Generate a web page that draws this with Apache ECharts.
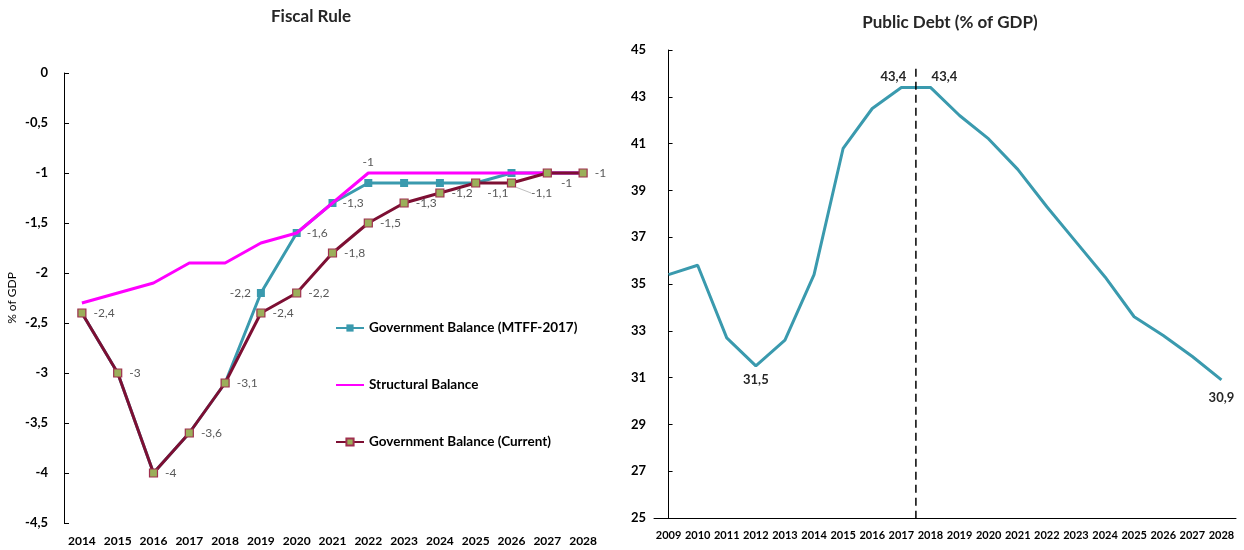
<!DOCTYPE html>
<html>
<head>
<meta charset="utf-8">
<script src="https://cdn.jsdelivr.net/npm/echarts@6/dist/echarts.min.js"></script>
<style>
  html, body { margin: 0; padding: 0; background: #ffffff; }
  #chart { width: 1244px; height: 550px; }
</style>
</head>
<body>
<div id="chart"></div>
<script>
// Fiscal rule panel
const fiscalYears = ['2014','2015','2016','2017','2018','2019','2020','2021','2022','2023','2024','2025','2026','2027','2028'];
const mtffBalance = [-2.4, -3, -4, -3.6, -3.1, -2.2, -1.6, -1.3, -1.1, -1.1, -1.1, -1.1, -1.0, -1.0, -1.0];
const structuralBalance = [-2.3, -2.2, -2.1, -1.9, -1.9, -1.7, -1.6, -1.3, -1.0, -1.0, -1.0, -1.0, -1.0, -1.0, -1.0];
const currentBalance = [-2.4, -3, -4, -3.6, -3.1, -2.4, -2.2, -1.8, -1.5, -1.3, -1.2, -1.1, -1.1, -1.0, -1.0];

// Public debt panel
const debtYears = ['2009','2010','2011','2012','2013','2014','2015','2016','2017','2018','2019','2020','2021','2022','2023','2024','2025','2026','2027','2028'];
const publicDebt = [35.4, 35.8, 32.7, 31.5, 32.6, 35.4, 40.8, 42.5, 43.4, 43.4, 42.2, 41.2, 39.9, 38.3, 36.8, 35.3, 33.6, 32.8, 31.9, 30.9];
// vertical divider between realised and programme years (category index 8.5)
const forecastDivider = [[8.5, 44.2], [8.5, 25]];

const FONT = 'Lato, "Open Sans", sans-serif';
const comma = v => String(v).replace('.', ',');

const TEAL = '#3A9AAE';
const MAGENTA = '#FF00FF';
const MAROON = '#7D0F33';
const OLIVE = '#9BAF5A';

const grayLabel = { color: '#595959', fontSize: 12, fontFamily: FONT };

// MTFF labels only on the programme points that stand apart
const mtffLabelled = { 5: 'left', 6: 'right', 7: 'right' };
const mtffData = mtffBalance.map((v, i) => {
  const pos = mtffLabelled[i];
  return pos
    ? { value: v, label: { show: true, position: pos, distance: 6, formatter: p => comma(p.value), ...grayLabel } }
    : { value: v };
});

const structuralData = structuralBalance.map((v, i) =>
  i === 8
    ? { value: v, label: { show: true, position: 'top', distance: 5, formatter: p => comma(p.value), ...grayLabel } }
    : { value: v }
);

// late points sit close together, so their labels drop below the line
const currentShift = { 11: [0, 10], 12: [8, 10], 13: [2, 10] };
const currentData = currentBalance.map((v, i) => ({
  value: v,
  label: { show: true, position: 'right', distance: 7, formatter: p => comma(p.value), ...grayLabel },
  labelLine: i === 12
    ? { show: true, length2: 0, minTurnAngle: 90, lineStyle: { color: '#bfbfbf', width: 1 } }
    : { show: false }
}));

const debtLabels = { 3: { position: 'bottom', dx: 0, dy: 0 }, 8: { position: 'top', dx: -8, dy: 3 }, 9: { position: 'top', dx: 14, dy: 3 }, 19: { position: 'bottom', dx: 0, dy: 4 } };
const debtData = publicDebt.map((v, i) => {
  const l = debtLabels[i];
  return l
    ? { value: v, label: { show: true, position: l.position, distance: 7, formatter: p => comma(p.value), color: '#262626', fontWeight: 'bold', fontSize: 13, fontFamily: FONT } }
    : { value: v };
});

const chart = echarts.init(document.getElementById('chart'), null, { renderer: 'canvas' });

chart.setOption({
  backgroundColor: '#ffffff',
  animation: false,
  textStyle: { fontFamily: FONT },
  title: [
    { text: 'Fiscal Rule', left: 306, top: 3, textAlign: 'center',
      textStyle: { fontSize: 17, fontWeight: 'bold', color: '#262626', fontFamily: FONT } },
    { text: 'Public Debt (% of GDP)', left: 945, top: 9, textAlign: 'center',
      textStyle: { fontSize: 17, fontWeight: 'bold', color: '#262626', fontFamily: FONT } }
  ],
  legend: {
    left: 330, top: 316, orient: 'vertical',
    itemWidth: 28, itemHeight: 9, itemGap: 43,
    data: [
      'Government Balance (MTFF-2017)',
      { name: 'Structural Balance', itemStyle: { opacity: 0 } },
      'Government Balance (Current)'
    ],
    textStyle: { fontSize: 13.5, fontWeight: 'bold', color: '#000000', fontFamily: FONT }
  },
  grid: [
    { left: 64, top: 73, right: 643, bottom: 27, containLabel: false },
    { left: 654, top: 50, right: 8, bottom: 32, containLabel: false }
  ],
  xAxis: [
    { type: 'category', gridIndex: 0, data: fiscalYears, boundaryGap: true,
      axisLine: { show: false }, axisTick: { show: false },
      axisLabel: { margin: 12, fontSize: 12, fontWeight: 'bold', color: '#000000', fontFamily: FONT, interval: 0 } },
    { type: 'category', gridIndex: 1, data: debtYears, boundaryGap: true,
      axisLine: { show: true, lineStyle: { color: '#000000', width: 1 } }, axisTick: { show: false },
      axisLabel: { margin: 12, fontSize: 11, fontWeight: 'bold', color: '#000000', fontFamily: FONT, interval: 0 } },
    { type: 'value', gridIndex: 1, min: -0.5, max: 19.5, show: false }
  ],
  yAxis: [
    { type: 'value', gridIndex: 0, min: -4.5, max: 0, interval: 0.5,
      name: '% of GDP', nameLocation: 'middle', nameRotate: 90, nameGap: 46,
      nameTextStyle: { fontSize: 12, color: '#000000', fontFamily: FONT },
      axisLine: { show: true, lineStyle: { color: '#000000', width: 1 } },
      axisTick: { show: true, inside: true, length: 5, lineStyle: { color: '#000000' } },
      splitLine: { show: false },
      axisLabel: { margin: 16, fontSize: 13, fontWeight: 'bold', color: '#000000', fontFamily: FONT, formatter: v => comma(v) } },
    { type: 'value', gridIndex: 1, min: 25, max: 45, interval: 2,
      axisLine: { show: true, lineStyle: { color: '#000000', width: 1 } },
      axisTick: { show: true, inside: true, length: 4, lineStyle: { color: '#000000' } },
      splitLine: { show: false },
      axisLabel: { margin: 8, fontSize: 13, fontWeight: 'bold', color: '#000000', fontFamily: FONT } }
  ],
  series: [
    { name: 'Government Balance (MTFF-2017)', type: 'line', xAxisIndex: 0, yAxisIndex: 0,
      data: mtffData, color: TEAL, symbol: 'rect', symbolSize: 8, z: 2,
      lineStyle: { width: 3, color: TEAL }, itemStyle: { color: TEAL } },
    { name: 'Structural Balance', type: 'line', xAxisIndex: 0, yAxisIndex: 0,
      data: structuralData, color: MAGENTA, symbol: 'circle', symbolSize: 0.1, z: 3,
      lineStyle: { width: 3, color: MAGENTA }, itemStyle: { color: MAGENTA } },
    { name: 'Government Balance (Current)', type: 'line', xAxisIndex: 0, yAxisIndex: 0,
      data: currentData, color: MAROON, symbol: 'rect', symbolSize: 8, z: 4,
      lineStyle: { width: 3, color: MAROON },
      itemStyle: { color: OLIVE, borderColor: '#A0304F', borderWidth: 1.2 },
      labelLayout: p => {
        const s = currentShift[p.dataIndex];
        return s ? { dx: s[0], dy: s[1], hideOverlap: false } : { hideOverlap: false };
      } },
    { name: 'Public Debt', type: 'line', xAxisIndex: 1, yAxisIndex: 1,
      data: debtData, symbol: 'circle', symbolSize: 0.1, color: TEAL,
      lineStyle: { width: 3, color: TEAL }, itemStyle: { color: TEAL },
      labelLayout: p => {
        const l = debtLabels[p.dataIndex];
        return l ? { dx: l.dx, dy: l.dy } : {};
      } },
    { name: 'Divider', type: 'line', xAxisIndex: 2, yAxisIndex: 1,
      data: forecastDivider, symbol: 'none', silent: true,
      lineStyle: { width: 1.5, color: '#000000', type: [8, 5] } }
  ]
});
</script>
</body>
</html>
